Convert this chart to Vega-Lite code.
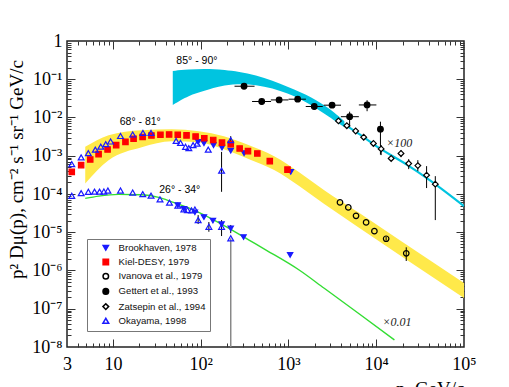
{
  "$schema": "https://vega.github.io/schema/vega-lite/v6.json",
  "autosize": "none",
  "width": 397,
  "height": 306,
  "padding": {"left": 67, "top": 41, "right": 45, "bottom": 40},
  "background": "white",
  "config": {
    "view": {"stroke": "#222", "strokeWidth": 1.5},
    "axis": {"grid": false, "domain": false, "labelFont": "Liberation Serif", "labelFontSize": 18, "labelColor": "#000", "tickColor": "#333", "tickWidth": 1, "titleFont": "Liberation Serif", "titleFontWeight": "normal", "titleColor": "#000", "labelFlush": false, "labelOverlap": false},
    "legend": {"orient": "none", "legendX": 20, "legendY": 198, "labelFont": "Liberation Sans", "labelFontSize": 9.6, "labelColor": "#111", "padding": 4, "symbolOffset": 10, "labelOffset": 8, "rowPadding": 2.2, "fillColor": "#ffffff", "strokeColor": "#777", "titleFontSize": 0}
  },
  "datasets": {
    "band85": [
      {"p": 48.1, "hi": 0.165, "lo": 0.0213},
      {"p": 73.3, "hi": 0.18, "lo": 0.0382},
      {"p": 109, "hi": 0.188, "lo": 0.0486},
      {"p": 175, "hi": 0.182, "lo": 0.072},
      {"p": 428, "hi": 0.135, "lo": 0.0787},
      {"p": 1018, "hi": 0.0619, "lo": 0.0431},
      {"p": 1866, "hi": 0.0339, "lo": 0.021},
      {"p": 2918, "hi": 0.0175, "lo": 0.0102},
      {"p": 4335, "hi": 0.008, "lo": 0.00558}
    ],
    "line85": [
      {"p": 4335, "v": 0.00668},
      {"p": 6430, "v": 0.00366},
      {"p": 10890, "v": 0.00158},
      {"p": 22750, "v": 0.000569},
      {"p": 40600, "v": 0.000231},
      {"p": 100000, "v": 0.0000483}
    ],
    "band68": [
      {"p": 4.84, "hi": 0.00171, "lo": 0.000189},
      {"p": 8.93, "hi": 0.00345, "lo": 0.000767},
      {"p": 21.3, "hi": 0.00466, "lo": 0.00168},
      {"p": 46.9, "hi": 0.00495, "lo": 0.00241},
      {"p": 95.4, "hi": 0.00439, "lo": 0.00226},
      {"p": 184, "hi": 0.00325, "lo": 0.00149},
      {"p": 356, "hi": 0.00189, "lo": 0.000815},
      {"p": 687, "hi": 0.000977, "lo": 0.000421},
      {"p": 1324, "hi": 0.000373, "lo": 0.000161},
      {"p": 2557, "hi": 0.000126, "lo": 0.0000545},
      {"p": 6430, "hi": 0.0000317, "lo": 0.0000129},
      {"p": 18400, "hi": 0.00000625, "lo": 0.00000254},
      {"p": 100000, "hi": 0.000000472, "lo": 0.000000191}
    ],
    "line26": [
      {"p": 4.84, "v": 0.0000767},
      {"p": 6.87, "v": 0.0000881},
      {"p": 11.6, "v": 0.0000977},
      {"p": 21.3, "v": 0.0000953},
      {"p": 33.3, "v": 0.0000815},
      {"p": 46.9, "v": 0.0000625},
      {"p": 83.6, "v": 0.000038},
      {"p": 228, "v": 0.0000114},
      {"p": 356, "v": 0.00000625},
      {"p": 556, "v": 0.00000343},
      {"p": 1324, "v": 0.00000103},
      {"p": 2557, "v": 0.000000343},
      {"p": 6430, "v": 0.0000000731},
      {"p": 16140, "v": 0.0000000153}
    ],
    "errV": [
      {"p": 173, "lo": 0.000114, "hi": 0.00126},
      {"p": 220, "lo": 0.00171, "hi": 0.00325},
      {"p": 93.6, "lo": 0.0000164, "hi": 0.0000281},
      {"p": 124, "lo": 0.0000103, "hi": 0.0000185},
      {"p": 173, "lo": 0.00000796, "hi": 0.0000208},
      {"p": 220, "lo": 0.0000095, "hi": 0.0000155},
      {"p": 12970, "lo": 0.000006, "hi": 0.0000076},
      {"p": 21980, "lo": 0.00000177, "hi": 0.00000404},
      {"p": 4977, "lo": 0.00558, "hi": 0.0142},
      {"p": 7870, "lo": 0.0146, "hi": 0.0283},
      {"p": 11170, "lo": 0.00107, "hi": 0.00777},
      {"p": 11380, "lo": 0.00104, "hi": 0.00189},
      {"p": 19160, "lo": 0.000919, "hi": 0.0014},
      {"p": 23440, "lo": 0.000447, "hi": 0.000815},
      {"p": 29790, "lo": 0.000396, "hi": 0.000767},
      {"p": 37480, "lo": 0.000143, "hi": 0.000535},
      {"p": 47100, "lo": 0.0000208, "hi": 0.000293}
    ],
    "errGray": [
      {"p": 220, "lo": 0.00000001, "hi": 0.00000693}
    ],
    "errH": [
      {"v": 0.0657, "lo": 243, "hi": 411},
      {"v": 0.0262, "lo": 385, "hi": 634},
      {"v": 0.0288, "lo": 630, "hi": 1000},
      {"v": 0.0301, "lo": 1002, "hi": 1581},
      {"v": 0.0194, "lo": 1574, "hi": 2460},
      {"v": 0.021, "lo": 2524, "hi": 3971},
      {"v": 0.0105, "lo": 3958, "hi": 6339},
      {"v": 0.0213, "lo": 6339, "hi": 10040}
    ],
    "pts": [
      {"src": "Brookhaven, 1978", "p": 93.6, "v": 0.00231},
      {"src": "Brookhaven, 1978", "p": 109, "v": 0.00213},
      {"src": "Brookhaven, 1978", "p": 140, "v": 0.00189},
      {"src": "Brookhaven, 1978", "p": 175, "v": 0.00163},
      {"src": "Brookhaven, 1978", "p": 220, "v": 0.00136},
      {"src": "Brookhaven, 1978", "p": 312, "v": 0.00117},
      {"src": "Brookhaven, 1978", "p": 1064, "v": 0.00038},
      {"src": "Brookhaven, 1978", "p": 54.9, "v": 0.0000513},
      {"src": "Brookhaven, 1978", "p": 64.3, "v": 0.0000411},
      {"src": "Brookhaven, 1978", "p": 85.9, "v": 0.0000333},
      {"src": "Brookhaven, 1978", "p": 109, "v": 0.0000249},
      {"src": "Brookhaven, 1978", "p": 138, "v": 0.0000202},
      {"src": "Brookhaven, 1978", "p": 173, "v": 0.0000162},
      {"src": "Brookhaven, 1978", "p": 220, "v": 0.0000126},
      {"src": "Brookhaven, 1978", "p": 308, "v": 0.0000075},
      {"src": "Brookhaven, 1978", "p": 1045, "v": 0.00000254},
      {"src": "Kiel-DESY, 1979", "p": 3.4, "v": 0.00038},
      {"src": "Kiel-DESY, 1979", "p": 4.35, "v": 0.000569},
      {"src": "Kiel-DESY, 1979", "p": 5.52, "v": 0.0008},
      {"src": "Kiel-DESY, 1979", "p": 6.87, "v": 0.0011},
      {"src": "Kiel-DESY, 1979", "p": 8.7, "v": 0.00146},
      {"src": "Kiel-DESY, 1979", "p": 10.9, "v": 0.00189},
      {"src": "Kiel-DESY, 1979", "p": 13.9, "v": 0.00231},
      {"src": "Kiel-DESY, 1979", "p": 17.2, "v": 0.00279},
      {"src": "Kiel-DESY, 1979", "p": 21.8, "v": 0.0031},
      {"src": "Kiel-DESY, 1979", "p": 27.5, "v": 0.00339},
      {"src": "Kiel-DESY, 1979", "p": 34.8, "v": 0.00353},
      {"src": "Kiel-DESY, 1979", "p": 43.7, "v": 0.0036},
      {"src": "Kiel-DESY, 1979", "p": 54.8, "v": 0.00353},
      {"src": "Kiel-DESY, 1979", "p": 69, "v": 0.00341},
      {"src": "Kiel-DESY, 1979", "p": 87.5, "v": 0.00319},
      {"src": "Kiel-DESY, 1979", "p": 110, "v": 0.00288},
      {"src": "Kiel-DESY, 1979", "p": 139, "v": 0.00259},
      {"src": "Kiel-DESY, 1979", "p": 175, "v": 0.0022},
      {"src": "Kiel-DESY, 1979", "p": 220, "v": 0.00201},
      {"src": "Kiel-DESY, 1979", "p": 278, "v": 0.00155},
      {"src": "Kiel-DESY, 1979", "p": 346, "v": 0.00132},
      {"src": "Kiel-DESY, 1979", "p": 442, "v": 0.00115},
      {"src": "Kiel-DESY, 1979", "p": 613, "v": 0.000723},
      {"src": "Kiel-DESY, 1979", "p": 975, "v": 0.000434},
      {"src": "Ivanova et al., 1979", "p": 3865, "v": 0.0000604},
      {"src": "Ivanova et al., 1979", "p": 4808, "v": 0.0000447},
      {"src": "Ivanova et al., 1979", "p": 5888, "v": 0.0000268},
      {"src": "Ivanova et al., 1979", "p": 7670, "v": 0.0000181},
      {"src": "Ivanova et al., 1979", "p": 9530, "v": 0.0000107},
      {"src": "Ivanova et al., 1979", "p": 12970, "v": 0.00000676},
      {"src": "Ivanova et al., 1979", "p": 21980, "v": 0.00000281},
      {"src": "Gettert et al., 1993", "p": 312, "v": 0.0657},
      {"src": "Gettert et al., 1993", "p": 496, "v": 0.0262},
      {"src": "Gettert et al., 1993", "p": 783, "v": 0.0288},
      {"src": "Gettert et al., 1993", "p": 1274, "v": 0.0301},
      {"src": "Gettert et al., 1993", "p": 1968, "v": 0.0194},
      {"src": "Gettert et al., 1993", "p": 3141, "v": 0.021},
      {"src": "Gettert et al., 1993", "p": 4977, "v": 0.0105},
      {"src": "Gettert et al., 1993", "p": 7870, "v": 0.0213},
      {"src": "Gettert et al., 1993", "p": 11170, "v": 0.00495},
      {"src": "Zatsepin et al., 1994", "p": 3716, "v": 0.00815},
      {"src": "Zatsepin et al., 1994", "p": 4624, "v": 0.00611},
      {"src": "Zatsepin et al., 1994", "p": 5833, "v": 0.00445},
      {"src": "Zatsepin et al., 1994", "p": 7199, "v": 0.00306},
      {"src": "Zatsepin et al., 1994", "p": 9290, "v": 0.0021},
      {"src": "Zatsepin et al., 1994", "p": 11380, "v": 0.00151},
      {"src": "Zatsepin et al., 1994", "p": 14800, "v": 0.000851},
      {"src": "Zatsepin et al., 1994", "p": 19160, "v": 0.00115},
      {"src": "Zatsepin et al., 1994", "p": 23440, "v": 0.000629},
      {"src": "Zatsepin et al., 1994", "p": 29790, "v": 0.000552},
      {"src": "Zatsepin et al., 1994", "p": 37480, "v": 0.000311},
      {"src": "Zatsepin et al., 1994", "p": 47100, "v": 0.000181},
      {"src": "Okayama, 1998", "p": 3.4, "v": 0.000604},
      {"src": "Okayama, 1998", "p": 4.35, "v": 0.000903},
      {"src": "Okayama, 1998", "p": 5.25, "v": 0.00117},
      {"src": "Okayama, 1998", "p": 6.31, "v": 0.00144},
      {"src": "Okayama, 1998", "p": 7.28, "v": 0.00173},
      {"src": "Okayama, 1998", "p": 8.3, "v": 0.00201},
      {"src": "Okayama, 1998", "p": 9.41, "v": 0.00236},
      {"src": "Okayama, 1998", "p": 12.2, "v": 0.00329},
      {"src": "Okayama, 1998", "p": 16.8, "v": 0.0036},
      {"src": "Okayama, 1998", "p": 22, "v": 0.00396},
      {"src": "Okayama, 1998", "p": 27.2, "v": 0.00396},
      {"src": "Okayama, 1998", "p": 52.5, "v": 0.00245},
      {"src": "Okayama, 1998", "p": 58.9, "v": 0.00217},
      {"src": "Okayama, 1998", "p": 67.2, "v": 0.00171},
      {"src": "Okayama, 1998", "p": 73.3, "v": 0.00158},
      {"src": "Okayama, 1998", "p": 82, "v": 0.00189},
      {"src": "Okayama, 1998", "p": 91.2, "v": 0.00207},
      {"src": "Okayama, 1998", "p": 122, "v": 0.00144},
      {"src": "Okayama, 1998", "p": 173, "v": 0.000408},
      {"src": "Okayama, 1998", "p": 220, "v": 0.00255},
      {"src": "Okayama, 1998", "p": 3.4, "v": 0.0000897},
      {"src": "Okayama, 1998", "p": 4.35, "v": 0.000105},
      {"src": "Okayama, 1998", "p": 5.25, "v": 0.000114},
      {"src": "Okayama, 1998", "p": 6.18, "v": 0.000115},
      {"src": "Okayama, 1998", "p": 7.05, "v": 0.000115},
      {"src": "Okayama, 1998", "p": 7.89, "v": 0.000116},
      {"src": "Okayama, 1998", "p": 8.77, "v": 0.000123},
      {"src": "Okayama, 1998", "p": 12.2, "v": 0.000123},
      {"src": "Okayama, 1998", "p": 16.8, "v": 0.000109},
      {"src": "Okayama, 1998", "p": 21.9, "v": 0.0000993},
      {"src": "Okayama, 1998", "p": 27.2, "v": 0.0000908},
      {"src": "Okayama, 1998", "p": 34.4, "v": 0.0000722},
      {"src": "Okayama, 1998", "p": 44.1, "v": 0.0000595},
      {"src": "Okayama, 1998", "p": 54.9, "v": 0.0000497},
      {"src": "Okayama, 1998", "p": 64.3, "v": 0.0000396},
      {"src": "Okayama, 1998", "p": 70.8, "v": 0.000038},
      {"src": "Okayama, 1998", "p": 78.7, "v": 0.0000373},
      {"src": "Okayama, 1998", "p": 85.9, "v": 0.0000392},
      {"src": "Okayama, 1998", "p": 93.6, "v": 0.0000208},
      {"src": "Okayama, 1998", "p": 124, "v": 0.0000139},
      {"src": "Okayama, 1998", "p": 173, "v": 0.0000139},
      {"src": "Okayama, 1998", "p": 220, "v": 0.00000693}
    ],
    "angles": [
      {"p": 90.6, "v": 0.295, "t": "85° - 90°"},
      {"p": 20.5, "v": 0.0075, "t": "68° - 81°"},
      {"p": 57.8, "v": 0.000126, "t": "26° - 34°"}
    ],
    "factors": [
      {"p": 12970, "v": 0.0022, "t": "×100"},
      {"p": 11780, "v": 0.0000000439, "t": "×0.01"}
    ]
  },
  "resolve": {"axis": {"x": "independent", "y": "independent"}},
  "layer": [
    {
      "data": {"name": "band85"},
      "mark": {"type": "area", "color": "#00c4e0", "opacity": 1, "interpolate": "basis", "clip": true},
      "encoding": {
        "x": {"field": "p", "type": "quantitative", "scale": {"type": "log", "domain": [3, 100000], "nice": false},
          "axis": {"orient": "bottom", "values": [3, 10, 100, 1000, 10000, 100000], "ticks": false, "labelExpr": "datum.value < 5 ? '3' : datum.value < 50 ? '10' : '10' + ['','','²','³','⁴','⁵'][round(log(datum.value)/LN10)]", "labelPadding": 8, "labelAlign": "center", "title": "p, GeV/c", "titleFontSize": 19, "titleAnchor": "end", "titleAlign": "right", "titleBaseline": "top", "titleX": 397, "titleY": 32}},
        "y": {"field": "hi", "type": "quantitative", "scale": {"type": "log", "domain": [1e-8, 1], "nice": false},
          "axis": {"orient": "left", "values": [1e-8, 1e-7, 1e-6, 1e-5, 1e-4, 1e-3, 1e-2, 1e-1, 1], "ticks": false, "labelExpr": "datum.value > 0.5 ? '1' : '10⁻' + ['','¹','²','³','⁴','⁵','⁶','⁷','⁸'][round(-log(datum.value)/LN10)]", "labelPadding": 5, "labelBaseline": "middle", "title": "p² Dμ(p),  cm⁻² s⁻¹ sr⁻¹ GeV/c", "titleFontSize": 19, "titleAngle": -90, "titleX": -51, "titleY": 128, "titleAlign": "center", "titleBaseline": "middle"}},
        "y2": {"field": "lo"}
      }
    },
    {
      "data": {"name": "band68"},
      "mark": {"type": "area", "color": "#ffe94a", "opacity": 1, "interpolate": "monotone", "clip": true},
      "encoding": {
        "x": {"field": "p", "type": "quantitative", "scale": {"type": "log", "domain": [3, 100000], "nice": false},
          "axis": {"orient": "bottom", "values": [10, 100, 1000, 10000], "labels": false, "tickSize": -8, "title": null}},
        "y": {"field": "hi", "type": "quantitative", "scale": {"type": "log", "domain": [1e-8, 1], "nice": false},
          "axis": {"orient": "left", "values": [1e-7, 1e-6, 1e-5, 1e-4, 1e-3, 1e-2, 1e-1], "labels": false, "tickSize": -8, "title": null}},
        "y2": {"field": "lo"}
      }
    },
    {
      "data": {"name": "line26"},
      "mark": {"type": "line", "color": "#33dd33", "strokeWidth": 1.4, "interpolate": "monotone", "clip": true},
      "encoding": {
        "x": {"field": "p", "type": "quantitative", "scale": {"type": "log", "domain": [3, 100000], "nice": false},
          "axis": {"orient": "bottom", "values": [4,5,6,7,8,9,20,30,40,50,60,70,80,90,200,300,400,500,600,700,800,900,2000,3000,4000,5000,6000,7000,8000,9000,20000,30000,40000,50000,60000,70000,80000,90000], "labels": false, "tickSize": -4, "title": null}},
        "y": {"field": "v", "type": "quantitative", "scale": {"type": "log", "domain": [1e-8, 1], "nice": false},
          "axis": {"orient": "left", "values": [2e-8,3e-8,4e-8,5e-8,6e-8,7e-8,8e-8,9e-8,2e-7,3e-7,4e-7,5e-7,6e-7,7e-7,8e-7,9e-7,2e-6,3e-6,4e-6,5e-6,6e-6,7e-6,8e-6,9e-6,2e-5,3e-5,4e-5,5e-5,6e-5,7e-5,8e-5,9e-5,2e-4,3e-4,4e-4,5e-4,6e-4,7e-4,8e-4,9e-4,2e-3,3e-3,4e-3,5e-3,6e-3,7e-3,8e-3,9e-3,2e-2,3e-2,4e-2,5e-2,6e-2,7e-2,8e-2,9e-2,2e-1,3e-1,4e-1,5e-1,6e-1,7e-1,8e-1,9e-1], "labels": false, "tickSize": -4, "title": null}}
      }
    },
    {
      "data": {"name": "line85"},
      "mark": {"type": "line", "color": "#00c4e0", "strokeWidth": 2.2, "interpolate": "monotone", "clip": true},
      "encoding": {
        "x": {"field": "p", "type": "quantitative", "scale": {"type": "log", "domain": [3, 100000], "nice": false},
          "axis": {"orient": "top", "values": [10, 100, 1000, 10000], "labels": false, "tickSize": -8, "title": null}},
        "y": {"field": "v", "type": "quantitative", "scale": {"type": "log", "domain": [1e-8, 1], "nice": false},
          "axis": {"orient": "right", "values": [1e-7, 1e-6, 1e-5, 1e-4, 1e-3, 1e-2, 1e-1], "labels": false, "tickSize": -8, "title": null}}
      }
    },
    {
      "data": {"name": "errV"},
      "mark": {"type": "rule", "color": "#000", "strokeWidth": 1, "clip": true},
      "encoding": {
        "x": {"field": "p", "type": "quantitative", "scale": {"type": "log", "domain": [3, 100000], "nice": false},
          "axis": {"orient": "top", "values": [4,5,6,7,8,9,20,30,40,50,60,70,80,90,200,300,400,500,600,700,800,900,2000,3000,4000,5000,6000,7000,8000,9000,20000,30000,40000,50000,60000,70000,80000,90000], "labels": false, "tickSize": -4, "title": null}},
        "y": {"field": "lo", "type": "quantitative", "scale": {"type": "log", "domain": [1e-8, 1], "nice": false},
          "axis": {"orient": "right", "values": [2e-8,3e-8,4e-8,5e-8,6e-8,7e-8,8e-8,9e-8,2e-7,3e-7,4e-7,5e-7,6e-7,7e-7,8e-7,9e-7,2e-6,3e-6,4e-6,5e-6,6e-6,7e-6,8e-6,9e-6,2e-5,3e-5,4e-5,5e-5,6e-5,7e-5,8e-5,9e-5,2e-4,3e-4,4e-4,5e-4,6e-4,7e-4,8e-4,9e-4,2e-3,3e-3,4e-3,5e-3,6e-3,7e-3,8e-3,9e-3,2e-2,3e-2,4e-2,5e-2,6e-2,7e-2,8e-2,9e-2,2e-1,3e-1,4e-1,5e-1,6e-1,7e-1,8e-1,9e-1], "labels": false, "tickSize": -4, "title": null}},
        "y2": {"field": "hi"}
      }
    },
    {
      "data": {"name": "errGray"},
      "mark": {"type": "rule", "color": "#888", "strokeWidth": 1.5, "clip": true},
      "encoding": {
        "x": {"field": "p", "type": "quantitative", "scale": {"type": "log", "domain": [3, 100000], "nice": false}, "axis": null},
        "y": {"field": "lo", "type": "quantitative", "scale": {"type": "log", "domain": [1e-8, 1], "nice": false}, "axis": null},
        "y2": {"field": "hi"}
      }
    },
    {
      "data": {"name": "errH"},
      "mark": {"type": "rule", "color": "#000", "strokeWidth": 1, "clip": true},
      "encoding": {
        "x": {"field": "lo", "type": "quantitative", "scale": {"type": "log", "domain": [3, 100000], "nice": false}, "axis": null},
        "x2": {"field": "hi"},
        "y": {"field": "v", "type": "quantitative", "scale": {"type": "log", "domain": [1e-8, 1], "nice": false}, "axis": null}
      }
    },
    {
      "data": {"name": "pts"},
      "mark": {"type": "point", "opacity": 1, "strokeWidth": 1.2, "clip": true},
      "encoding": {
        "x": {"field": "p", "type": "quantitative", "scale": {"type": "log", "domain": [3, 100000], "nice": false}, "axis": null},
        "y": {"field": "v", "type": "quantitative", "scale": {"type": "log", "domain": [1e-8, 1], "nice": false}, "axis": null},
        "shape": {"field": "src", "type": "nominal", "scale": {"domain": ["Brookhaven, 1978", "Kiel-DESY, 1979", "Ivanova et al., 1979", "Gettert et al., 1993", "Zatsepin et al., 1994", "Okayama, 1998"], "range": ["triangle-down", "square", "circle", "circle", "diamond", "triangle-up"]}, "legend": {"title": null}},
        "stroke": {"field": "src", "type": "nominal", "scale": {"domain": ["Brookhaven, 1978", "Kiel-DESY, 1979", "Ivanova et al., 1979", "Gettert et al., 1993", "Zatsepin et al., 1994", "Okayama, 1998"], "range": ["#1a1aff", "#ff0000", "#000000", "#000000", "#000000", "#1a1aff"]}, "legend": {"title": null}},
        "fill": {"field": "src", "type": "nominal", "scale": {"domain": ["Brookhaven, 1978", "Kiel-DESY, 1979", "Ivanova et al., 1979", "Gettert et al., 1993", "Zatsepin et al., 1994", "Okayama, 1998"], "range": ["#1a1aff", "#ff0000", "transparent", "#000000", "#ffffff", "transparent"]}, "legend": {"title": null}},
        "size": {"field": "src", "type": "nominal", "scale": {"domain": ["Brookhaven, 1978", "Kiel-DESY, 1979", "Ivanova et al., 1979", "Gettert et al., 1993", "Zatsepin et al., 1994", "Okayama, 1998"], "range": [28, 34, 42, 26, 28, 38]}, "legend": {"title": null}}
      }
    },
    {
      "data": {"name": "angles"},
      "mark": {"type": "text", "font": "Liberation Sans", "fontSize": 10.5, "color": "#000", "align": "center", "baseline": "middle"},
      "encoding": {
        "x": {"field": "p", "type": "quantitative", "scale": {"type": "log", "domain": [3, 100000], "nice": false}, "axis": null},
        "y": {"field": "v", "type": "quantitative", "scale": {"type": "log", "domain": [1e-8, 1], "nice": false}, "axis": null},
        "text": {"field": "t"}
      }
    },
    {
      "data": {"name": "factors"},
      "mark": {"type": "text", "font": "Liberation Serif", "fontStyle": "italic", "fontSize": 12, "color": "#222", "align": "left", "baseline": "middle"},
      "encoding": {
        "x": {"field": "p", "type": "quantitative", "scale": {"type": "log", "domain": [3, 100000], "nice": false}, "axis": null},
        "y": {"field": "v", "type": "quantitative", "scale": {"type": "log", "domain": [1e-8, 1], "nice": false}, "axis": null},
        "text": {"field": "t"}
      }
    }
  ]
}
